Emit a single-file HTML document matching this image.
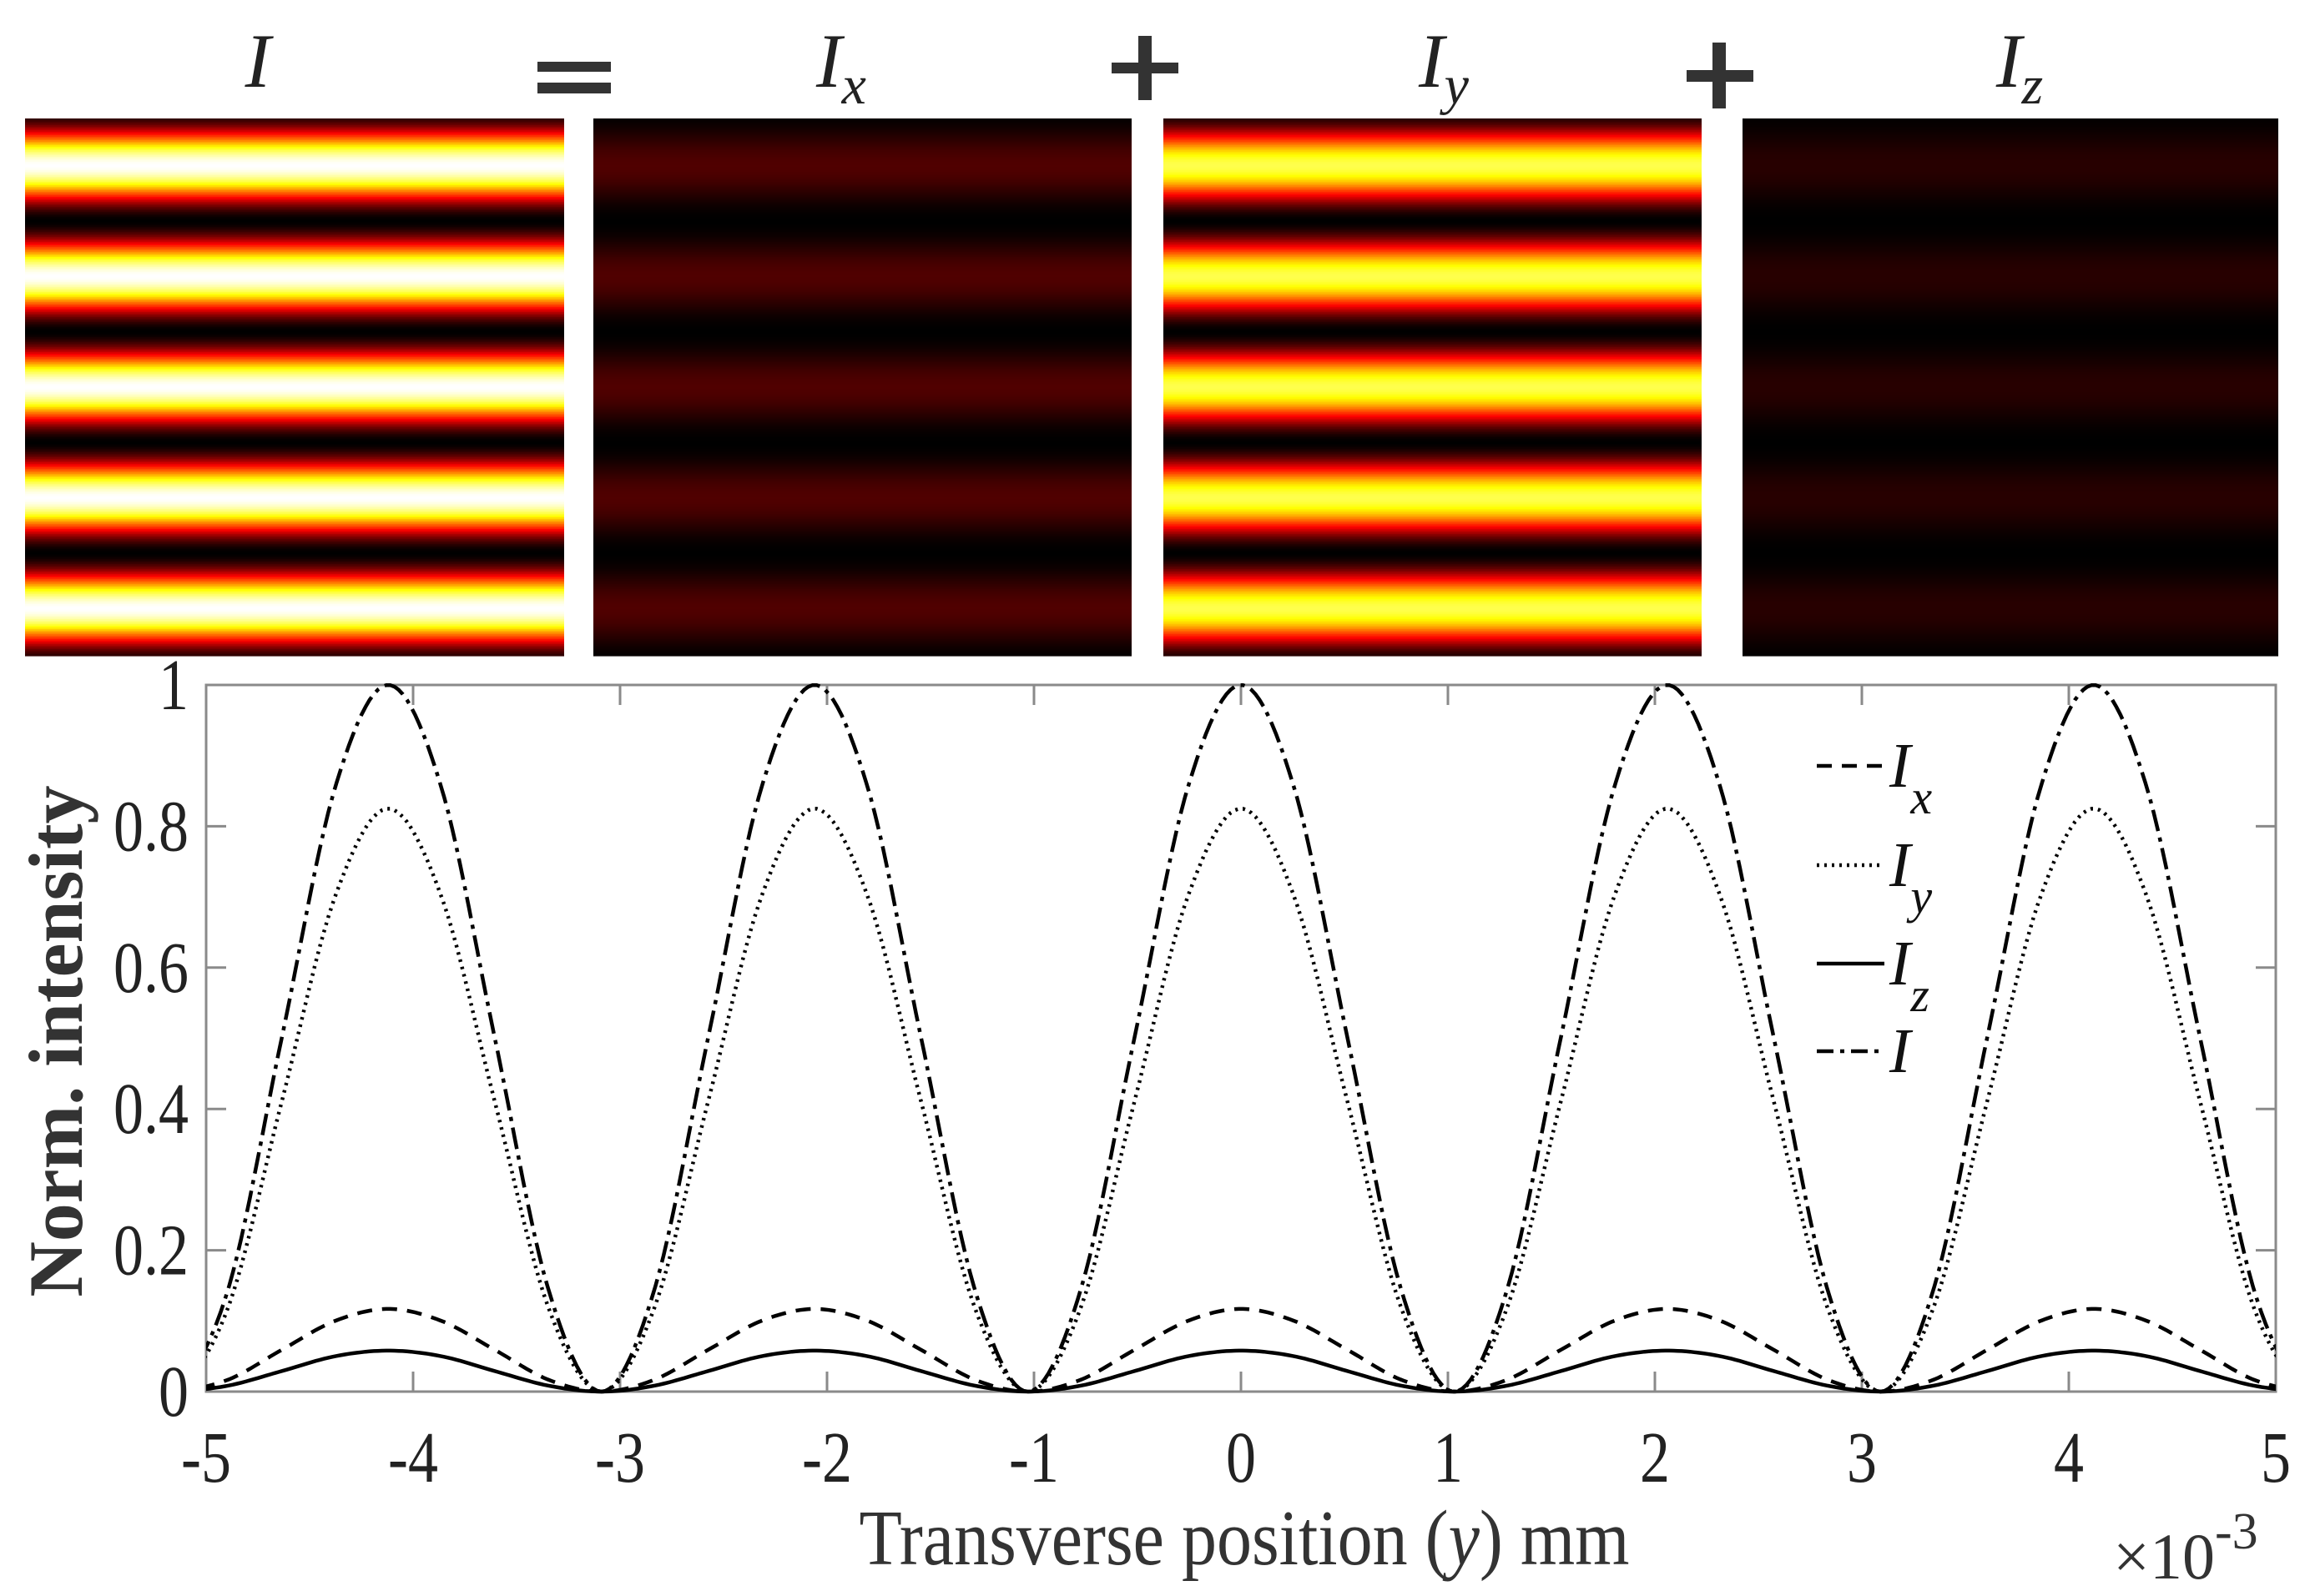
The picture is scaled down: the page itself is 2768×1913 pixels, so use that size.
<!DOCTYPE html>
<html><head><meta charset="utf-8">
<style>
html,body{margin:0;padding:0;background:#fff;}
svg{display:block;font-family:"Liberation Serif",serif;}
</style></head>
<body>
<svg id="fig" width="2768" height="1913" viewBox="0 0 2768 1913" xmlns="http://www.w3.org/2000/svg">
  <g font-style="italic" fill="#222" font-size="92">
    <text x="309" y="104" text-anchor="middle">I</text>
    <text x="1008" y="104" text-anchor="middle">I<tspan font-size="66" dy="20">x</tspan></text>
    <text x="1730" y="104" text-anchor="middle">I<tspan font-size="66" dy="20">y</tspan></text>
    <text x="2420" y="104" text-anchor="middle">I<tspan font-size="66" dy="20">z</tspan></text>
  </g>
  <g fill="#333">
    <rect x="644" y="74" width="88" height="12"/>
    <rect x="644" y="99" width="88" height="13"/>
    <rect x="1332" y="75" width="80" height="13"/>
    <rect x="1364" y="43" width="16" height="77"/>
    <rect x="2021" y="84" width="80" height="14"/>
    <rect x="2052" y="51" width="16" height="79"/>
  </g>
  <g id="panels"></g>
  <g id="plot"></g>
</svg>
<script>
// Data (x in units of 1e-3 mm)
const xs = [-5.15,-4.8925,-4.635,-4.3775,-4.12,-3.8625,-3.605,-3.3475,-3.09,-2.8325,-2.575,-2.3175,-2.06,-1.8025,-1.545,-1.2875,-1.03,-0.7725,-0.515,-0.2575,0,0.2575,0.515,0.7725,1.03,1.2875,1.545,1.8025,2.06,2.3175,2.575,2.8325,3.09,3.3475,3.605,3.8625,4.12,4.3775,4.635,4.8925,5.15];
const seriesI  = [0,0.146,0.5,0.854,1,0.854,0.5,0.146,0,0.146,0.5,0.854,1,0.854,0.5,0.146,0,0.146,0.5,0.854,1,0.854,0.5,0.146,0,0.146,0.5,0.854,1,0.854,0.5,0.146,0,0.146,0.5,0.854,1,0.854,0.5,0.146,0];
const seriesIy = [0,0.12,0.41,0.70,0.825,0.70,0.41,0.12,0,0.12,0.41,0.70,0.825,0.70,0.41,0.12,0,0.12,0.41,0.70,0.825,0.70,0.41,0.12,0,0.12,0.41,0.70,0.825,0.70,0.41,0.12,0,0.12,0.41,0.70,0.825,0.70,0.41,0.12,0];
const seriesIx = [0,0.017,0.059,0.1,0.117,0.1,0.059,0.017,0,0.017,0.059,0.1,0.117,0.1,0.059,0.017,0,0.017,0.059,0.1,0.117,0.1,0.059,0.017,0,0.017,0.059,0.1,0.117,0.1,0.059,0.017,0,0.017,0.059,0.1,0.117,0.1,0.059,0.017,0];
const seriesIz = [0,0.0085,0.029,0.05,0.058,0.05,0.029,0.0085,0,0.0085,0.029,0.05,0.058,0.05,0.029,0.0085,0,0.0085,0.029,0.05,0.058,0.05,0.029,0.0085,0,0.0085,0.029,0.05,0.058,0.05,0.029,0.0085,0,0.0085,0.029,0.05,0.058,0.05,0.029,0.0085,0];
const xTicks = [-5,-4,-3,-2,-1,0,1,2,3,4,5];
const yTicks = [0,0.2,0.4,0.6,0.8,1];
const yTickLabels = ["0","0.2","0.4","0.6","0.8","1"];

const NS="http://www.w3.org/2000/svg";
function mk(tag, attrs, parent){const e=document.createElementNS(NS,tag);for(const k in attrs)e.setAttribute(k,attrs[k]);parent.appendChild(e);return e;}

const L=247,R=2727,T=821,B=1668;
const sx=v=>L+(v+5)/10*(R-L);
const sy=v=>B-v*(B-T);

function interp(arr,x){
  if(x<=xs[0])return arr[0];
  for(let i=0;i<xs.length-1;i++){
    if(x<=xs[i+1]){const t=(x-xs[i])/(xs[i+1]-xs[i]);
      const p0=arr[Math.max(0,i-1)],p1=arr[i],p2=arr[i+1],p3=arr[Math.min(arr.length-1,i+2)];
      const t2=t*t,t3=t2*t;
      return 0.5*((2*p1)+(-p0+p2)*t+(2*p0-5*p1+4*p2-p3)*t2+(-p0+3*p1-3*p2+p3)*t3);}
  }
  return arr[arr.length-1];
}
function hot(v){v=Math.max(0,Math.min(1,v));
  const r=Math.min(1,v/0.375),g=Math.max(0,Math.min(1,(v-0.375)/0.375)),b=Math.max(0,Math.min(1,(v-0.75)/0.25));
  return `rgb(${Math.round(r*255)},${Math.round(g*255)},${Math.round(b*255)})`;}

const panels=document.getElementById('panels');
const panelDefs=[[seriesI,30,676,'heatmap-i'],[seriesIx,711,1356,'heatmap-ix'],[seriesIy,1394,2039,'heatmap-iy'],[seriesIz,2088,2730,'heatmap-iz']];
const PT=142,PB=786;
panelDefs.forEach(([arr,x0,x1,name])=>{
  const g=mk('g',{},panels);
  
  
  for(let y=PT;y<PB;y+=2){
    const xv=-5+((y+1-PT)/(PB-PT))*10;
    const r=mk('rect',{x:x0,y:y,width:x1-x0,height:2.6,fill:hot(interp(arr,xv))},g);
    
    
  }
});

const plot=document.getElementById('plot');
const defs=mk('defs',{},plot);
const cp=mk('clipPath',{id:'clip'},defs);
mk('rect',{x:L,y:T-20,width:R-L,height:B-T+30},cp);

const box=mk('rect',{x:L,y:T,width:R-L,height:B-T,fill:'none',stroke:'#8a8a8a','stroke-width':3},plot);



xTicks.forEach(v=>{
  const x=sx(v);
  mk('line',{x1:x,y1:B,x2:x,y2:B-24,stroke:'#8a8a8a','stroke-width':3},plot);
  mk('line',{x1:x,y1:T,x2:x,y2:T+24,stroke:'#8a8a8a','stroke-width':3},plot);
  const t=mk('text',{x:0,y:0,'text-anchor':'middle','font-size':72,fill:'#222',transform:`translate(${x},1776) scale(1,1.2)`},plot);
  t.textContent=String(v);
  
  
});
yTicks.forEach((v,i)=>{
  const y=sy(v);
  mk('line',{x1:L,y1:y,x2:L+24,y2:y,stroke:'#8a8a8a','stroke-width':3},plot);
  mk('line',{x1:R,y1:y,x2:R-24,y2:y,stroke:'#8a8a8a','stroke-width':3},plot);
  const t=mk('text',{x:0,y:0,'text-anchor':'end','font-size':72,fill:'#222',transform:`translate(226,${y+29}) scale(1,1.2)`},plot);
  t.textContent=yTickLabels[i];
  
  
});

function pathFor(arr){
  let d='';
  for(let x=-5.15;x<=5.151;x+=0.02){d+=(d?'L':'M')+sx(x).toFixed(1)+','+sy(interp(arr,x)).toFixed(1);}
  return d;
}
const styles=[
  [seriesI,'26 8 5 8','series-i'],
  [seriesIy,'3 6','series-iy'],
  [seriesIx,'18 12','series-ix'],
  [seriesIz,'none','series-iz']
];
styles.forEach(([arr,dash,name])=>{
  const p=mk('path',{d:pathFor(arr),fill:'none',stroke:'#000','stroke-width':4.5,'clip-path':'url(#clip)'},plot);
  if(dash!=='none')p.setAttribute('stroke-dasharray',dash);
  
  
});

const leg=mk('g',{},plot);


const legItems=[[918,'18 12','x'],[1037,'3 6','y'],[1155,'none','z'],[1260,'20 8 5 8','']];
legItems.forEach(([y,dash,sub])=>{
  const ln=mk('line',{x1:2177,y1:y,x2:2258,y2:y,stroke:'#000','stroke-width':4.5},leg);
  if(dash!=='none')ln.setAttribute('stroke-dasharray',dash);
  
  
  const t=mk('text',{x:2264,y:y+25,'font-size':76,'font-style':'italic',fill:'#111'},leg);
  t.textContent='I';
  if(sub){const s=mk('tspan',{dy:32,'font-size':58},t);s.textContent=sub;}
  
  
});

const yl=mk('text',{x:0,y:0,'font-size':92,'font-weight':'bold',fill:'#333','text-anchor':'middle',transform:'translate(98,1248) rotate(-90)'},plot);
yl.textContent='Norm. intensity';


const xl=mk('text',{x:0,y:0,'font-size':84,fill:'#333','text-anchor':'middle',transform:'translate(1491,1875) scale(1,1.12)'},plot);
xl.innerHTML='Transverse position (<tspan font-style="italic">y</tspan>) mm';


const ex=mk('text',{x:2532,y:1892,'font-size':78,fill:'#333'},plot);
ex.innerHTML='×10<tspan dy="-36" font-size="62">-3</tspan>';


</script>
</body></html>
